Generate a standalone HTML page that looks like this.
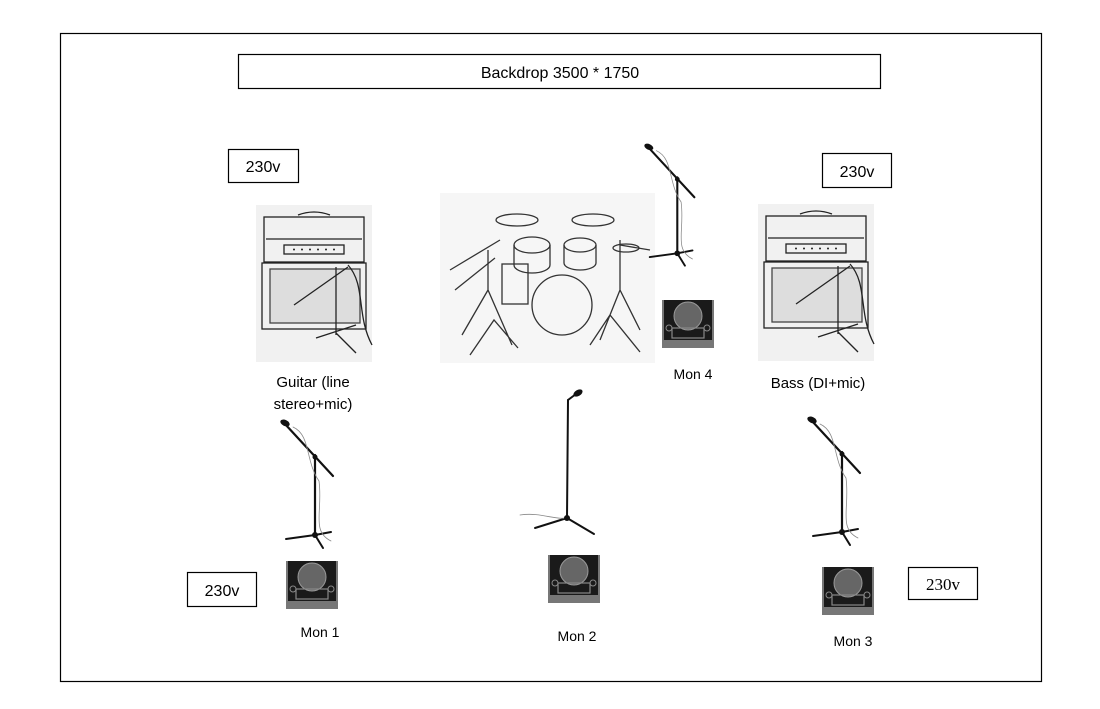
<!DOCTYPE html>
<html><head><meta charset="utf-8"><style>
html,body{margin:0;padding:0;background:#fff;}
svg{display:block;}
text{font-family:"Liberation Sans","DejaVu Sans",sans-serif;fill:#000;}
</style></head><body>
<svg width="1100" height="709" viewBox="0 0 1100 709" xmlns="http://www.w3.org/2000/svg">
<defs>
<symbol id="mic" overflow="visible">
  <g stroke="#111" fill="none" stroke-linecap="round">
    <line x1="4" y1="3" x2="52" y2="55" stroke-width="2.2"/>
    <line x1="34" y1="34" x2="34" y2="114" stroke-width="2.2"/>
    <line x1="34" y1="114" x2="5" y2="118" stroke-width="2"/>
    <line x1="34" y1="114" x2="50" y2="111" stroke-width="2"/>
    <line x1="34" y1="114" x2="42" y2="127" stroke-width="2"/>
    <path d="M12 6 C30 14 24 40 38 60 C42 90 30 110 50 120" stroke="#888" stroke-width="0.8"/>
  </g>
  <ellipse cx="4" cy="2" rx="5" ry="3" fill="#111" transform="rotate(25 4 2)"/>
  <circle cx="34" cy="36" r="2.5" fill="#111"/>
  <circle cx="34" cy="114" r="3" fill="#111"/>
</symbol>
<symbol id="mon" overflow="visible">
  <rect x="0" y="0" width="52" height="48" fill="#777"/>
  <rect x="2" y="0" width="48" height="40" fill="#1a1a1a"/>
  <circle cx="26" cy="16" r="14" fill="#666" stroke="#999" stroke-width="1"/>
  <rect x="10" y="28" width="32" height="10" fill="none" stroke="#888" stroke-width="1.2"/>
  <circle cx="7" cy="28" r="3" fill="none" stroke="#888"/>
  <circle cx="45" cy="28" r="3" fill="none" stroke="#888"/>
</symbol>
<symbol id="amp" overflow="visible">
  <rect x="0" y="0" width="116" height="157" fill="#f1f1f1"/>
  <g fill="none" stroke="#222" stroke-width="1.3">
    <path d="M42 10 Q58 4 74 10"/>
    <rect x="8" y="12" width="100" height="45"/>
    <line x1="10" y1="34" x2="106" y2="34"/>
    <rect x="28" y="40" width="60" height="9"/>
    <rect x="6" y="58" width="104" height="66"/>
    <rect x="14" y="64" width="90" height="54" fill="#ddd" stroke="#444"/>
    <line x1="80" y1="62" x2="80" y2="130"/>
    <line x1="38" y1="100" x2="92" y2="62"/>
    <line x1="60" y1="133" x2="100" y2="120"/>
    <line x1="80" y1="128" x2="100" y2="148"/>
    <path d="M92 60 C110 80 100 110 116 140"/>
  </g>
  <g fill="#222"><circle cx="38" cy="44.5" r="1"/><circle cx="46" cy="44.5" r="1"/><circle cx="54" cy="44.5" r="1"/><circle cx="62" cy="44.5" r="1"/><circle cx="70" cy="44.5" r="1"/><circle cx="78" cy="44.5" r="1"/></g>
</symbol>
</defs>

<rect x="60.5" y="33.5" width="981" height="648" fill="none" stroke="#000" stroke-width="1.2"/>
<rect x="238.5" y="54.5" width="642" height="34" fill="none" stroke="#000" stroke-width="1.2"/>
<text x="560" y="78" font-size="16" text-anchor="middle">Backdrop 3500 * 1750</text>

<g fill="none" stroke="#000" stroke-width="1.2">
<rect x="228.5" y="149.5" width="70" height="33"/>
<rect x="822.5" y="153.5" width="69" height="34"/>
<rect x="187.5" y="572.5" width="69" height="34"/>
<rect x="908.5" y="567.5" width="69" height="32"/>
</g>
<text x="263" y="172" font-size="16" text-anchor="middle">230v</text>
<text x="857" y="177" font-size="16" text-anchor="middle">230v</text>
<text x="222" y="596" font-size="16" text-anchor="middle">230v</text>
<text x="943" y="590" font-size="17" text-anchor="middle" style="font-family:'Liberation Serif',serif">230v</text>

<use href="#amp" x="256" y="205"/>
<use href="#amp" x="758" y="204"/>
<text x="313" y="387" font-size="15" text-anchor="middle">Guitar (line</text>
<text x="313" y="409" font-size="15" text-anchor="middle">stereo+mic)</text>
<text x="818" y="388" font-size="15" text-anchor="middle">Bass (DI+mic)</text>

<!-- drums -->
<rect x="440" y="193" width="215" height="170" fill="#f6f6f6"/>
<g fill="none" stroke="#333" stroke-width="1.3">
  <ellipse cx="517" cy="220" rx="21" ry="6"/>
  <ellipse cx="593" cy="220" rx="21" ry="6"/>
  <ellipse cx="626" cy="248" rx="13" ry="4"/>
  <ellipse cx="532" cy="245" rx="18" ry="8"/><path d="M514 245 v20 a18 8 0 0 0 36 0 v-20"/>
  <ellipse cx="580" cy="245" rx="16" ry="7"/><path d="M564 245 v18 a16 7 0 0 0 32 0 v-18"/>
  <rect x="502" y="264" width="26" height="40"/>
  <circle cx="562" cy="305" r="30"/>
  <path d="M462 335 L488 290 L512 345 M488 290 V250 M470 355 L494 320 L518 348"/>
  <path d="M640 330 L620 290 L600 340 M620 290 V240 M640 352 L610 315 L590 345"/>
  <path d="M450 270 L500 240 M455 290 L495 258 M620 245 L650 250"/>
</g>

<use href="#mic" x="645" y="145" transform="translate(645 145) scale(0.95) translate(-645 -145)"/>
<use href="#mic" x="281" y="421"/>
<use href="#mic" x="808" y="418"/>

<!-- straight mic -->
<g stroke="#111" stroke-linecap="round" fill="none">
  <line x1="568" y1="400" x2="567" y2="518" stroke-width="2"/>
  <line x1="568" y1="400" x2="576" y2="394" stroke-width="2"/>
  <line x1="567" y1="518" x2="535" y2="528" stroke-width="2"/>
  <line x1="567" y1="518" x2="594" y2="534" stroke-width="2"/>
  <path d="M520 515 C540 512 555 520 565 518" stroke="#888" stroke-width="0.8"/>
</g>
<ellipse cx="578" cy="393" rx="5" ry="3" fill="#111" transform="rotate(-30 578 393)"/>
<circle cx="567" cy="518" r="3" fill="#111"/>

<use href="#mon" x="662" y="300"/>
<use href="#mon" x="286" y="561"/>
<use href="#mon" x="548" y="555"/>
<use href="#mon" x="822" y="567"/>

<text x="693" y="379" font-size="14" text-anchor="middle">Mon 4</text>
<text x="320" y="637" font-size="14" text-anchor="middle">Mon 1</text>
<text x="577" y="641" font-size="14" text-anchor="middle">Mon 2</text>
<text x="853" y="646" font-size="14" text-anchor="middle">Mon 3</text>
</svg>
</body></html>
